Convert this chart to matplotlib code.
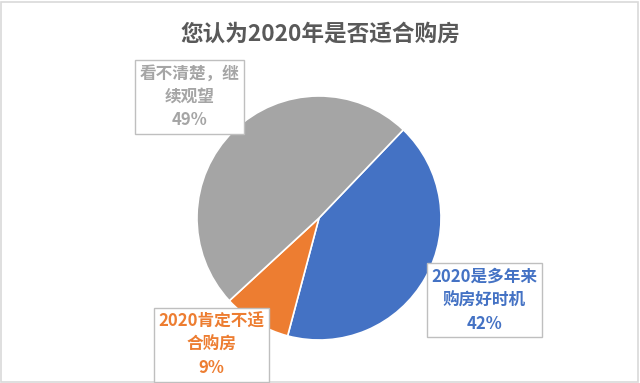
import matplotlib
matplotlib.use('Agg')
from matplotlib import pyplot as plt
from matplotlib.patches import Rectangle

plt.rcParams['font.family'] = ['Noto Sans CJK SC', 'DejaVu Sans']

# data
categories = ['2020是多年来\n购房好时机', '2020肯定不适\n合购房', '看不清楚，继\n续观望']
values = [42, 9, 49]
colors = ['#4472C4', '#ED7D31', '#A5A5A5']
title = '您认为2020年是否适合购房'

# label box centers in figure fraction (layout only)
label_pos = [(0.757, 0.216), (0.330, 0.100), (0.296, 0.748)]

fig = plt.figure(figsize=(6.4, 3.83), dpi=100)
fig.patch.set_facecolor('white')

# outer chart frame
fig.patches.append(Rectangle((0.002, 0.003), 0.995, 0.993, transform=fig.transFigure,
                             fill=False, edgecolor='#D9D9D9', linewidth=1.2))

ax = fig.add_axes([(319 - 122) / 640, (383 - 218 - 122) / 383, 244 / 640, 244 / 383])
ax.pie(values, colors=colors, startangle=46.3, counterclock=False,
       wedgeprops=dict(edgecolor='white', linewidth=1.2))
ax.set_xlim(-1, 1)
ax.set_ylim(-1, 1)
ax.set_aspect('equal')
ax.axis('off')

fig.text(0.5, 0.912, title, ha='center', va='center', fontsize=16.3,
         fontweight='bold', color='#595959')

for cat, v, c, (x, y) in zip(categories, values, colors, label_pos):
    fig.text(x, y, f'{cat}\n{v}%', ha='center', va='center', fontsize=12,
             fontweight='bold', color=c, linespacing=1.38,
             bbox=dict(boxstyle='square,pad=0.28', facecolor='white',
                       edgecolor='#BFBFBF', linewidth=1))

fig.savefig('out.png', dpi=100)
